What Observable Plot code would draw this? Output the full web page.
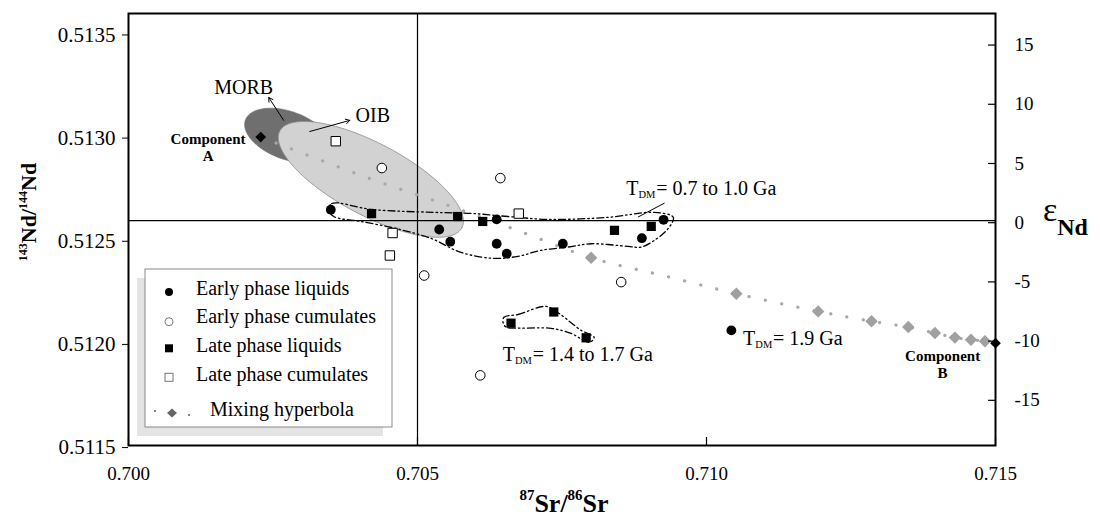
<!DOCTYPE html>
<html><head><meta charset="utf-8">
<script src="https://cdn.jsdelivr.net/npm/d3@7"></script>
<script src="https://cdn.jsdelivr.net/npm/@observablehq/plot@0.6"></script>
<style>
body{margin:0;background:#fff;}
#chart{width:1100px;height:519px;}
</style></head><body><div id="chart"></div>
<script>
// ---- data (87Sr/86Sr, 143Nd/144Nd) ----
const earlyLiquids = [[0.703500,0.512653],[0.705376,0.512557],[0.705567,0.512498],[0.706370,0.512606],[0.706370,0.512488],[0.706544,0.512440],[0.707514,0.512488],[0.708882,0.512515],[0.709257,0.512604],[0.710430,0.512068]];
const earlyCumulates = [[0.704383,0.512855],[0.706433,0.512806],[0.705116,0.512334],[0.708524,0.512302],[0.706086,0.511850]];
const lateLiquids = [[0.704205,0.512634],[0.705695,0.512620],[0.706128,0.512596],[0.708408,0.512553],[0.709044,0.512572],[0.706618,0.512103],[0.707358,0.512157],[0.707918,0.512032]];
const lateCumulates = [[0.703586,0.512985],[0.704569,0.512540],[0.704522,0.512431],[0.706752,0.512634]];
const componentA = [0.702287,0.513005];
const componentB = [0.715000,0.512006];
const mixDiamonds = [[0.708004,0.512420],[0.710516,0.512246],[0.711932,0.512160],[0.712855,0.512112],[0.713491,0.512084],[0.713952,0.512055],[0.714298,0.512033],[0.714576,0.512023],[0.714818,0.512015]];
const mixCurve = [componentA,[0.704181,0.512803],[0.705579,0.512669],[0.706687,0.512557],mixDiamonds[0],[0.709246,0.512334],...mixDiamonds.slice(1),componentB];
const contourYoung = [[0.703465,0.512650],[0.703517,0.512683],[0.704210,0.512654],[0.705284,0.512640],[0.705925,0.512635],[0.706566,0.512620],[0.707259,0.512606],[0.708299,0.512616],[0.709096,0.512640],[0.709425,0.512616],[0.709338,0.512562],[0.709096,0.512504],[0.708870,0.512472],[0.708645,0.512475],[0.708004,0.512488],[0.707606,0.512472],[0.707138,0.512456],[0.706739,0.512427],[0.706324,0.512417],[0.705752,0.512446],[0.705232,0.512514],[0.704626,0.512562],[0.704019,0.512596],[0.703552,0.512620]];
const contourOld = [[0.706497,0.512132],[0.706739,0.512145],[0.707224,0.512184],[0.707450,0.512150],[0.707831,0.512068],[0.708056,0.512034],[0.707970,0.512010],[0.707658,0.512053],[0.707311,0.512078],[0.706791,0.512079],[0.706532,0.512084],[0.706480,0.512107]];
// fields: centre and semi-axis vectors (data units)
const morbField = {cx:0.702755, cy:0.513013, ux:0.000733, uy:-0.0000746, vx:-0.000142, vy:-0.0001093};
const oibField = {cx:0.704193, cy:0.512800, ux:0.001575, uy:-0.0002346, vx:-0.000293, vy:-0.0001541};
const arrows = [{x1:0.702685,y1:0.513086,x2:0.702426,y2:0.513197},{x1:0.703136,y1:0.513032,x2:0.703829,y2:0.513086}];
const leader = [{x1:0.708813,y1:0.512617,x2:0.709274,y2:0.512685}];
// ticks
const xTicks = [0.700,0.705,0.710,0.715];
const yTicks = [0.5115,0.5120,0.5125,0.5130,0.5135];
const epsTicks = [15,10,5,0,-5,-10,-15];
const eps0 = 0.51259, epsStep = 0.0000574;
const legendLabels = ["Early phase liquids","Early phase cumulates","Late phase liquids","Late phase cumulates","Mixing hyperbola"];
const refSr = 0.705, refNd = 0.5126;

const epsToNd = e => eps0 + e*epsStep;
const epsPos = epsTicks.map(epsToNd);
const epsLabel = new Map(epsPos.map((p,i)=>[p,String(epsTicks[i])]));
function ellipse(e){
  return d3.range(0,361,3).map(t=>{const r=t*Math.PI/180;return [e.cx+e.ux*Math.cos(r)+e.vx*Math.sin(r), e.cy+e.uy*Math.cos(r)+e.vy*Math.sin(r)];});
}
const X = d=>d[0], Y = d=>d[1];
const serif = "'Liberation Serif','Times New Roman',serif";
function label(pt, parts, anchor="start"){
  return parts.map(([t,dx,dy,fs,fw])=>Plot.text([pt],{x:X,y:Y,text:()=>t,dx,dy,fontSize:fs,fontWeight:fw||"normal",textAnchor:anchor,fill:"black",fontFamily:serif}));
}

const W=1100,H=519,ML=128,MR=105,MT=13,MB=74;
const plot = Plot.plot({
  width:W,height:H,marginLeft:ML,marginRight:MR,marginTop:MT,marginBottom:MB,
  style:{fontFamily:serif,fontSize:"20px",background:"white",overflow:"visible"},
  x:{domain:[0.700,0.715],axis:null},
  y:{domain:[0.51151,0.513604],axis:null},
  marks:[
    Plot.line(ellipse(morbField),{x:X,y:Y,fill:"#6f6f6f",stroke:"#6f6f6f",strokeWidth:0.5}),
    Plot.line(ellipse(oibField),{x:X,y:Y,fill:"#d2d2d2",stroke:"#8c8c8c",strokeWidth:0.8}),
    Plot.ruleX([refSr],{stroke:"black",strokeWidth:1.2}),
    Plot.ruleY([refNd],{stroke:"black",strokeWidth:1.2}),
    Plot.line(mixCurve,{x:X,y:Y,curve:"catmull-rom",stroke:"#a8a8a8",strokeWidth:3.2,strokeDasharray:"0.1,16.5",strokeLinecap:"round"}),
    Plot.dot(mixDiamonds,{x:X,y:Y,symbol:"diamond2",r:5.6,fill:"#a0a0a0",stroke:"none"}),
    Plot.line(contourYoung,{x:X,y:Y,curve:"catmull-rom-closed",stroke:"black",strokeWidth:1.3,strokeDasharray:"7,3,1.5,3,1.5,3"}),
    Plot.line(contourOld,{x:X,y:Y,curve:"catmull-rom-closed",stroke:"black",strokeWidth:1.3,strokeDasharray:"7,3,1.5,3,1.5,3"}),
    Plot.arrow(arrows,{x1:"x1",y1:"y1",x2:"x2",y2:"y2",stroke:"black",strokeWidth:1,headLength:7}),
    Plot.link(leader,{x1:"x1",y1:"y1",x2:"x2",y2:"y2",stroke:"black",strokeWidth:1}),
    Plot.dot(earlyLiquids,{x:X,y:Y,r:4.9,fill:"black",stroke:"none"}),
    Plot.dot(earlyCumulates,{x:X,y:Y,r:4.8,fill:"white",stroke:"black",strokeWidth:1}),
    Plot.dot(lateLiquids,{x:X,y:Y,symbol:"square",r:5.2,fill:"black",stroke:"none"}),
    Plot.dot(lateCumulates,{x:X,y:Y,symbol:"square",r:5.3,fill:"white",stroke:"black",strokeWidth:1}),
    Plot.dot([componentA,componentB],{x:X,y:Y,symbol:"diamond2",r:4.8,fill:"black",stroke:"none"}),
    label([0.701992,0.513243],[["MORB",0,0,20]],"middle"),
    label([0.704227,0.513107],[["OIB",0,0,20]],"middle"),
    Plot.text([[0.701377,0.513032]],{x:X,y:Y,text:()=>"Component\nA",lineAnchor:"top",lineHeight:1.15,fontSize:15,fontWeight:"bold",textAnchor:"middle",fontFamily:serif}),
    Plot.text([[0.714085,0.511974]],{x:X,y:Y,text:()=>"Component\nB",lineAnchor:"top",lineHeight:1.1,fontSize:15,fontWeight:"bold",textAnchor:"middle",fontFamily:serif}),
    label([0.708611,0.512753],[["T",0,0,20],["DM",12.3,5.5,10.5],["= 0.7 to 1.0 Ga",30,0,20]]),
    label([0.706474,0.511949],[["T",0,0,20],["DM",12.3,5.5,10.5],["= 1.4 to 1.7 Ga",30,0,20]]),
    label([0.710632,0.512026],[["T",0,0,20],["DM",12.3,5.5,10.5],["= 1.9 Ga",30,0,20]]),
    Plot.frame({stroke:"black",strokeWidth:2}),
    Plot.axisY({anchor:"left",ticks:yTicks,tickFormat:d=>d.toFixed(4),tickSize:6,tickPadding:7,fontSize:21,label:null,fontFamily:serif}),
    Plot.axisX({anchor:"bottom",ticks:xTicks,tickFormat:d=>d.toFixed(3),tickSize:0,tickPadding:21,fontSize:19,label:null,fontFamily:serif}),
    Plot.tickX(xTicks,{x:d=>d,insetTop:H-MT-MB-8,stroke:"black",strokeWidth:1.2}),
    Plot.axisY({anchor:"right",ticks:epsPos,tickFormat:d=>epsLabel.get(d),tickSize:0,tickPadding:19,fontSize:19,label:null,fontFamily:serif}),
    Plot.tickY(epsPos,{y:d=>d,insetLeft:W-ML-MR-7,stroke:"black",strokeWidth:1.2})
  ]
});
document.getElementById("chart").appendChild(plot);

// ---- axis titles and legend ----
const svg = d3.select(plot);
const lt = svg.append("text").attr("transform","translate(36,212) rotate(-90)").attr("text-anchor","middle").attr("font-family",serif).attr("font-weight","bold").attr("fill","black");
[["143",12,-9],["Nd/",22,9],["144",12,-9],["Nd",22,9]].forEach(([t,s,dy])=>lt.append("tspan").attr("font-size",s).attr("dy",dy).text(t));
const bt = svg.append("text").attr("x",564).attr("y",512).attr("text-anchor","middle").attr("font-family",serif).attr("font-weight","bold").attr("fill","black");
[["87",15,-12],["Sr/",26,12],["86",15,-12],["Sr",26,12]].forEach(([t,s,dy])=>bt.append("tspan").attr("font-size",s).attr("dy",dy).text(t));
const et = svg.append("text").attr("x",1043).attr("y",221).attr("text-anchor","start").attr("font-family",serif).attr("fill","black");
et.append("tspan").attr("font-size",34).text("ε");
et.append("tspan").attr("font-size",24).attr("font-weight","bold").attr("dy",14).text("Nd");

const lg = svg.append("g");
lg.append("rect").attr("x",137).attr("y",278).attr("width",246).attr("height",158).attr("fill","#e4e4e4");
lg.append("rect").attr("x",145).attr("y",269).attr("width",247).attr("height",158).attr("fill","white").attr("stroke","#8a8a8a").attr("stroke-width",1);
const rowsY = [292,321.7,348.3,377.3,413];
lg.append("circle").attr("cx",169).attr("cy",rowsY[0]).attr("r",4).attr("fill","black");
lg.append("circle").attr("cx",169).attr("cy",rowsY[1]).attr("r",4).attr("fill","white").attr("stroke","#777");
lg.append("rect").attr("x",165).attr("y",rowsY[2]-4).attr("width",8).attr("height",8).attr("fill","black");
lg.append("rect").attr("x",165).attr("y",rowsY[3]-4).attr("width",8).attr("height",8).attr("fill","white").attr("stroke","#777");
lg.append("circle").attr("cx",155).attr("cy",rowsY[4]-2).attr("r",1.1).attr("fill","#666");
lg.append("path").attr("d",`M${172-5},${rowsY[4]} L172,${rowsY[4]-4.5} L${172+5},${rowsY[4]} L172,${rowsY[4]+4.5}Z`).attr("fill","#666");
lg.append("circle").attr("cx",189).attr("cy",rowsY[4]+2).attr("r",1.1).attr("fill","#666");
const textX = [196,196,196,196,210];
const baseY = [295,323,352,381,416];
legendLabels.forEach((t,i)=>lg.append("text").attr("x",textX[i]).attr("y",baseY[i]).attr("text-anchor","start").attr("font-family",serif).attr("font-size",20).attr("fill","black").text(t));
</script></body></html>
